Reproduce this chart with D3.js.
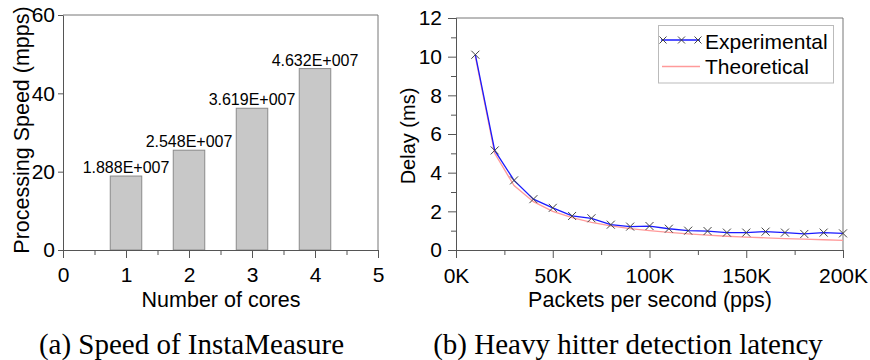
<!DOCTYPE html>
<html><head><meta charset="utf-8">
<script src="https://cdn.jsdelivr.net/npm/d3@7"></script>
<style>body{margin:0;background:#fff}svg{display:block}</style>
</head><body>
<svg id="c" width="870" height="360"></svg>
<script>
// ---- data (a) ----
const cores = [1, 2, 3, 4];
const speed = [18.88, 25.48, 36.19, 46.32];
const speedLabels = ["1.888E+007", "2.548E+007", "3.619E+007", "4.632E+007"];
const coreTicks = [0, 1, 2, 3, 4, 5];
const coreMinorTicks = [0.5, 1.5, 2.5, 3.5, 4.5];
const speedTicks = [0, 20, 40, 60];
// ---- data (b) ----
const pps = [10000, 20000, 30000, 40000, 50000, 60000, 70000, 80000, 90000, 100000,
             110000, 120000, 130000, 140000, 150000, 160000, 170000, 180000, 190000, 200000];
const experimental = [10.1, 5.15, 3.6, 2.63, 2.18, 1.76, 1.64, 1.31, 1.21, 1.24,
                      1.1, 1.0, 0.98, 0.9, 0.9, 0.95, 0.9, 0.83, 0.9, 0.86];
const theoretical = [10.0, 5.0, 3.33, 2.5, 2.0, 1.67, 1.43, 1.25, 1.11, 1.0,
                     0.91, 0.83, 0.77, 0.71, 0.67, 0.63, 0.59, 0.56, 0.53, 0.5];
const ppsTicks = [0, 50000, 100000, 150000, 200000];
const ppsTickLabels = ["0K", "50K", "100K", "150K", "200K"];
const ppsMinorTicks = [25000, 75000, 125000, 175000];
const delayTicks = [0, 2, 4, 6, 8, 10, 12];
const delayMinorTicks = [1, 3, 5, 7, 9, 11];
const seriesNames = ["Experimental", "Theoretical"];

const svg = d3.select("#c");
const SANS = "'Liberation Sans', Arial, sans-serif";
const SERIF = "'Liberation Serif', 'Times New Roman', serif";
const AX = "#555", FRAME = "#777";
const TICKFS = 21;

function styleAxis(g, fs) {
  g.select(".domain").attr("stroke", AX);
  g.selectAll(".tick line").attr("stroke", AX);
  g.selectAll(".tick text").attr("font-family", SANS).attr("font-size", fs).attr("fill", "#000");
}

// ================= (a) =================
const xa = d3.scaleLinear().domain([0, 5]).range([63, 378]);
const ya = d3.scaleLinear().domain([0, 60]).range([250, 15]);

svg.append("path").attr("d", `M${xa(0)},${ya(60)}H${xa(5)}V${ya(0)}`)
  .attr("fill", "none").attr("stroke", FRAME);

svg.append("g").selectAll("rect").data(cores).join("rect")
  .attr("x", (d) => xa(d - 0.25))
  .attr("width", (d) => xa(d + 0.25) - xa(d - 0.25))
  .attr("y", (d, i) => ya(speed[i]))
  .attr("height", (d, i) => ya(0) - ya(speed[i]))
  .attr("fill", "#c8c8c8").attr("stroke", "#8a8a8a");

svg.append("g").selectAll("text").data(cores).join("text")
  .attr("x", (d) => xa(d)).attr("y", (d, i) => ya(speed[i]) - 3)
  .attr("text-anchor", "middle").attr("font-family", SANS).attr("font-size", 16)
  .text((d, i) => speedLabels[i]);

svg.append("g").attr("transform", `translate(0,${ya(0)})`)
  .call(d3.axisBottom(xa).tickValues(coreMinorTicks).tickSize(5).tickFormat(""))
  .call(g => styleAxis(g, TICKFS));
svg.append("g").attr("transform", `translate(0,${ya(0)})`)
  .call(d3.axisBottom(xa).tickValues(coreTicks).tickSize(8).tickSizeOuter(0).tickPadding(9).tickFormat(d3.format("d")))
  .call(g => styleAxis(g, TICKFS));
svg.append("g").attr("transform", `translate(${xa(0)},0)`)
  .call(d3.axisLeft(ya).tickValues(speedTicks).tickSize(5).tickSizeOuter(0).tickPadding(3).tickFormat(d3.format("d")))
  .call(g => styleAxis(g, TICKFS));

svg.append("text").attr("transform", "translate(28.5,130) rotate(-90)")
  .attr("text-anchor", "middle").attr("font-family", SANS).attr("font-size", 21.5)
  .text("Processing Speed (mpps)");
svg.append("text").attr("x", (xa(0) + xa(5)) / 2 + 0.5).attr("y", 307)
  .attr("text-anchor", "middle").attr("font-family", SANS).attr("font-size", 21.5)
  .text("Number of cores");
svg.append("text").attr("x", 191.5).attr("y", 354)
  .attr("text-anchor", "middle").attr("font-family", SERIF).attr("font-size", 29)
  .text("(a) Speed of InstaMeasure");

// ================= (b) =================
const xb = d3.scaleLinear().domain([0, 200000]).range([456, 843]);
const yb = d3.scaleLinear().domain([0, 12]).range([250, 18]);

svg.append("path").attr("d", `M${xb(0)},${yb(12)}H${xb(200000)}V${yb(0)}`)
  .attr("fill", "none").attr("stroke", FRAME);

svg.append("g").attr("transform", `translate(0,${yb(0)})`)
  .call(d3.axisBottom(xb).tickValues(ppsMinorTicks).tickSize(5).tickFormat(""))
  .call(g => styleAxis(g, TICKFS));
svg.append("g").attr("transform", `translate(0,${yb(0)})`)
  .call(d3.axisBottom(xb).tickValues(ppsTicks).tickSize(8).tickSizeOuter(0).tickPadding(10)
    .tickFormat((d, i) => ppsTickLabels[i]))
  .call(g => styleAxis(g, TICKFS));
svg.append("g").attr("transform", `translate(${xb(0)},0)`)
  .call(d3.axisLeft(yb).tickValues(delayMinorTicks).tickSize(5).tickFormat(""))
  .call(g => styleAxis(g, TICKFS));
svg.append("g").attr("transform", `translate(${xb(0)},0)`)
  .call(d3.axisLeft(yb).tickValues(delayTicks).tickSize(8).tickSizeOuter(0).tickPadding(6).tickFormat(d3.format("d")))
  .call(g => styleAxis(g, TICKFS));

const line = (vals) => d3.line().x((d, i) => xb(pps[i])).y((d) => yb(d))(vals);
svg.append("path").attr("d", line(theoretical)).attr("fill", "none")
  .attr("stroke", "#ff9a9a").attr("stroke-width", 1.3);
svg.append("path").attr("d", line(experimental)).attr("fill", "none")
  .attr("stroke", "#1a1aff").attr("stroke-width", 1.3);

const cross = (g, cx, cy, r) => g.append("path")
  .attr("d", `M${cx - r},${cy - r}L${cx + r},${cy + r}M${cx - r},${cy + r}L${cx + r},${cy - r}`)
  .attr("stroke", "#444").attr("stroke-width", 1).attr("fill", "none");
const mk = svg.append("g");
experimental.forEach((v, i) => cross(mk, xb(pps[i]), yb(v), 4));

// legend
const lg = svg.append("g");
lg.append("rect").attr("x", 658.5).attr("y", 25.5).attr("width", 175).attr("height", 57.5)
  .attr("fill", "#fff").attr("stroke", "#bbb");
lg.append("line").attr("x1", 661).attr("x2", 700).attr("y1", 40).attr("y2", 40)
  .attr("stroke", "#1a1aff").attr("stroke-width", 1.3);
[663, 681.5, 698].forEach(cx => cross(lg, cx, 40, 3.5));
lg.append("line").attr("x1", 662).attr("x2", 700).attr("y1", 66.5).attr("y2", 66.5)
  .attr("stroke", "#ff9a9a").attr("stroke-width", 1.3);
lg.selectAll("text.l").data(seriesNames).join("text").attr("class", "l")
  .attr("x", 705).attr("y", (d, i) => 48.5 + i * 25)
  .attr("font-family", SANS).attr("font-size", 21).text(d => d);

svg.append("text").attr("transform", "translate(414.5,136) rotate(-90)")
  .attr("text-anchor", "middle").attr("font-family", SANS).attr("font-size", 20)
  .text("Delay (ms)");
svg.append("text").attr("x", 650).attr("y", 307)
  .attr("text-anchor", "middle").attr("font-family", SANS).attr("font-size", 21.5)
  .text("Packets per second (pps)");
svg.append("text").attr("x", 628).attr("y", 354)
  .attr("text-anchor", "middle").attr("font-family", SERIF).attr("font-size", 29)
  .text("(b) Heavy hitter detection latency");
</script>
</body></html>
